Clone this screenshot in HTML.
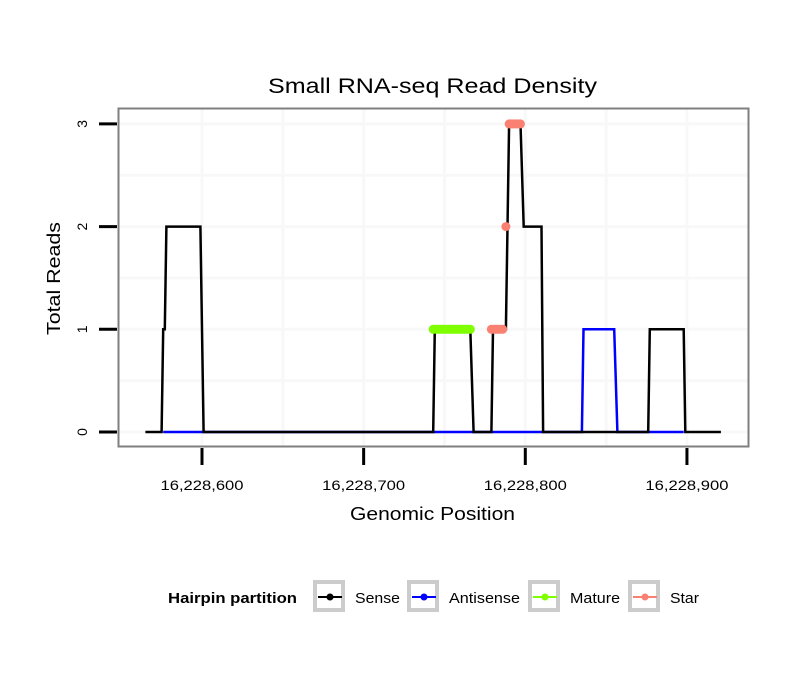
<!DOCTYPE html>
<html><head><meta charset="utf-8"><style>
body{margin:0;background:#fff;}
svg text{font-family:"Liberation Sans",sans-serif;}
</style></head><body>
<svg width="810" height="690" xmlns="http://www.w3.org/2000/svg">
<rect width="810" height="690" fill="#fff"/>
<text x="268" y="93" font-size="21" textLength="329" lengthAdjust="spacingAndGlyphs">Small RNA-seq Read Density</text>
<g id="grid"></g>
<g id="series"></g>
<rect x="118.5" y="108.5" width="630" height="338" fill="none" stroke="#7f7f7f" stroke-width="2"/>
<g id="axes"></g>
<text x="350" y="520" font-size="18" textLength="165" lengthAdjust="spacingAndGlyphs">Genomic Position</text>
<text transform="translate(60,335) rotate(-90)" font-size="18" textLength="113" lengthAdjust="spacingAndGlyphs">Total Reads</text>
<g>
<text x="168" y="603" font-size="15" font-weight="bold" textLength="129" lengthAdjust="spacingAndGlyphs">Hairpin partition</text>
<g id="legend"></g>
</g>
<script>
const xTicks=[16228600,16228700,16228800,16228900];
const xTickLabels=["16,228,600","16,228,700","16,228,800","16,228,900"];
const xMinor=[16228650,16228750,16228850];
const yTicks=[0,1,2,3];
const yMinor=[0.5,1.5,2.5];
const base=16228000;
const sensePos=[565,575,576,577,578,599,601,743,744,766,768,779,780,788,789,790,797,799,810,811,876,877,898,899,921];
const senseVal=[0,0,1,1,2,2,0,0,1,1,0,0,1,1,2,3,3,2,2,0,0,1,1,0,0];
const antiPos=[576,835,836,855,857,898];
const antiVal=[0,0,1,1,0,0];
const maturePos=[743,744,745,746,747,748,749,750,751,752,753,754,755,756,757,758,759,760,761,762,763,764,765,766];
const matureVal=[1,1,1,1,1,1,1,1,1,1,1,1,1,1,1,1,1,1,1,1,1,1,1,1];
const starPos=[779,780,781,782,783,784,785,786,788,790,791,792,793,794,795,796,797];
const starVal=[1,1,1,1,1,1,1,1,2,3,3,3,3,3,3,3,3];
const legendNames=["Sense","Antisense","Mature","Star"];
const legendColors=["#000000","#0000ff","#7fff00","#fa8072"];
const legendBoxX=[313,407,528,628];
const legendTextW=[45,71,50,29];

const NS="http://www.w3.org/2000/svg";
function X(p){return 202+(p-16228600)*1.6165;}
function Y(v){return 432-v*102.7;}
function mk(t,a,parent){const e=document.createElementNS(NS,t);for(const k in a)e.setAttribute(k,a[k]);parent.appendChild(e);return e;}
const grid=document.getElementById('grid'),axes=document.getElementById('axes'),ser=document.getElementById('series'),leg=document.getElementById('legend');
mk('rect',{x:118,y:108,width:631,height:339,fill:'#ffffff'},grid);
xMinor.forEach(p=>{const l=mk('line',{x1:X(p),x2:X(p),y1:109,y2:446,stroke:'#f8f8f8','stroke-width':3},grid);

});
xTicks.forEach(p=>{const l=mk('line',{x1:X(p),x2:X(p),y1:109,y2:446,stroke:'#f8f8f8','stroke-width':3},grid);

});
yMinor.forEach(v=>{const l=mk('line',{x1:119,x2:748,y1:Y(v),y2:Y(v),stroke:'#f8f8f8','stroke-width':3},grid);

});
yTicks.forEach(v=>{const l=mk('line',{x1:119,x2:748,y1:Y(v),y2:Y(v),stroke:'#f8f8f8','stroke-width':3},grid);

});
xTicks.forEach((p,i)=>{const l=mk('line',{x1:X(p),x2:X(p),y1:448,y2:465,stroke:'#000','stroke-width':3},axes);


const t=mk('text',{x:X(p)-41.5,y:490,'font-size':14,textLength:83,lengthAdjust:'spacingAndGlyphs'},axes);t.textContent=xTickLabels[i];

});
yTicks.forEach(v=>{const l=mk('line',{x1:99,x2:117,y1:Y(v),y2:Y(v),stroke:'#000','stroke-width':3},axes);


const t=mk('text',{transform:`translate(87,${Y(v)}) rotate(-90)`,'font-size':14,'text-anchor':'middle'},axes);t.textContent=String(v);

});
function path(pos,val){return pos.map((p,i)=>(i?'L':'M')+X(base+p).toFixed(1)+','+Y(val[i]).toFixed(1)).join('');}
const pa=mk('path',{d:path(antiPos,antiVal),fill:'none',stroke:'#0000ff','stroke-width':2.5},ser);


const ps=mk('path',{d:path(sensePos,senseVal),fill:'none',stroke:'#000','stroke-width':2.5},ser);


maturePos.forEach((p,i)=>{const c=mk('circle',{cx:X(base+p),cy:Y(matureVal[i]),r:4.5,fill:'#7fff00'},ser);

});
starPos.forEach((p,i)=>{const c=mk('circle',{cx:X(base+p),cy:Y(starVal[i]),r:4.5,fill:'#fa8072'},ser);

});
legendNames.forEach((n,i)=>{const bx=legendBoxX[i];
const g=mk('g',{},leg);


mk('rect',{x:bx+2,y:582,width:28,height:28,fill:'#fff',stroke:'#cccccc','stroke-width':4},g);
mk('line',{x1:bx+5,x2:bx+29,y1:597,y2:597,stroke:legendColors[i],'stroke-width':2},g);
mk('circle',{cx:bx+17,cy:597,r:3.5,fill:legendColors[i]},g);
const t=mk('text',{x:bx+42,y:603,'font-size':15,textLength:legendTextW[i],lengthAdjust:'spacingAndGlyphs'},g);t.textContent=n;});
</script>
</svg>
</body></html>
